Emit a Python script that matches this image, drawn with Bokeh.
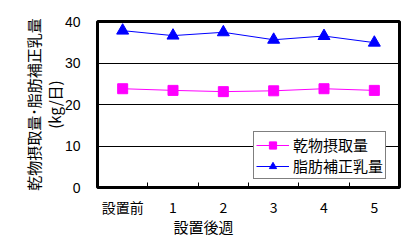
import numpy as np
from bokeh.plotting import figure
from bokeh.models import FixedTicker, Range1d, Legend, LegendItem, ColumnDataSource
from bokeh.embed import file_html
from bokeh.resources import INLINE

categories = ["設置前", "1", "2", "3", "4", "5"]
dmi = [23.8, 23.4, 23.1, 23.3, 23.8, 23.4]
fcm = [37.8, 36.6, 37.4, 35.6, 36.5, 34.9]
y_ticks = [0, 10, 20, 30, 40]
series_names = ["乾物摂取量", "脂肪補正乳量"]
x_title = "設置後週"
y_title = "乾物摂取量･脂肪補正乳量\n(kg/日)"

JP = "Noto Sans CJK JP"
NUM = "Liberation Sans"

x = np.arange(len(categories)) + 0.5
src = ColumnDataSource(dict(x=x, dmi=dmi, fcm=fcm))

p = figure(width=406, height=250, output_backend="svg", toolbar_location=None,
           x_range=Range1d(0, len(categories)), y_range=Range1d(0, 40),
           min_border_left=97, min_border_right=7, min_border_top=21, min_border_bottom=63)
p.background_fill_color = "white"
p.border_fill_color = "white"
p.outline_line_color = "black"
p.outline_line_width = 3

l1 = p.line("x", "dmi", source=src, line_color="#FF00FF", line_width=1)
m1 = p.scatter("x", "dmi", source=src, marker="square", size=10, fill_color="#FF00FF", line_color="#FF00FF")
l2 = p.line("x", "fcm", source=src, line_color="#0000FF", line_width=1)
m2 = p.scatter("x", "fcm", source=src, marker="triangle", size=12, fill_color="#0000FF", line_color="#0000FF")

p.xaxis.ticker = FixedTicker(ticks=list(x), minor_ticks=list(np.arange(1, len(categories))))
p.xaxis.major_label_overrides = {float(v): c for v, c in zip(x, categories)}
p.xaxis.major_tick_in = 0
p.xaxis.major_tick_out = 0
p.xaxis.minor_tick_in = 5
p.xaxis.minor_tick_out = 0
p.xaxis.minor_tick_line_color = "black"
p.xaxis.axis_line_color = None
p.xaxis.major_label_text_font = JP
p.xaxis.major_label_text_font_size = "14px"
p.xaxis.major_label_text_color = "black"
p.xaxis.major_label_standoff = 9
# title sits left of centre in the reference: pad with ideographic spaces
p.xaxis.axis_label = x_title + "\u3000" * 6
p.xaxis.axis_label_text_font = JP
p.xaxis.axis_label_text_font_size = "15px"
p.xaxis.axis_label_text_font_style = "normal"
p.xaxis.axis_label_text_color = "black"
p.xaxis.axis_label_standoff = -4

p.yaxis.ticker = FixedTicker(ticks=y_ticks)
p.yaxis.major_tick_in = 0
p.yaxis.major_tick_out = 0
p.yaxis.minor_tick_line_color = None
p.yaxis.axis_line_color = None
p.yaxis.major_label_text_font = NUM
p.yaxis.major_label_text_font_size = "14px"
p.yaxis.major_label_text_color = "black"
p.yaxis.major_label_standoff = 17
p.yaxis.axis_label = y_title
p.yaxis.axis_label_text_font = JP
p.yaxis.axis_label_text_font_size = "15px"
p.yaxis.axis_label_text_font_style = "normal"
p.yaxis.axis_label_text_color = "black"
p.yaxis.axis_label_text_line_height = 1.0
p.yaxis.axis_label_standoff = -3

p.xgrid.grid_line_color = None
p.ygrid.grid_line_color = "black"
p.ygrid.grid_line_width = 1

legend = Legend(items=[LegendItem(label=series_names[0], renderers=[l1, m1]),
                       LegendItem(label=series_names[1], renderers=[l2, m2])],
                location=(156, 8))
legend.label_text_font = JP
legend.label_text_font_size = "15px"
legend.label_text_color = "black"
legend.border_line_color = "black"
legend.border_line_width = 1
legend.background_fill_color = "white"
legend.background_fill_alpha = 1
legend.padding = 2
legend.margin = 0
legend.spacing = 0
legend.glyph_width = 33
legend.glyph_height = 18
legend.label_height = 18
legend.label_standoff = 4
p.add_layout(legend, "center")

open("out.html", "w").write(file_html(p, INLINE))
